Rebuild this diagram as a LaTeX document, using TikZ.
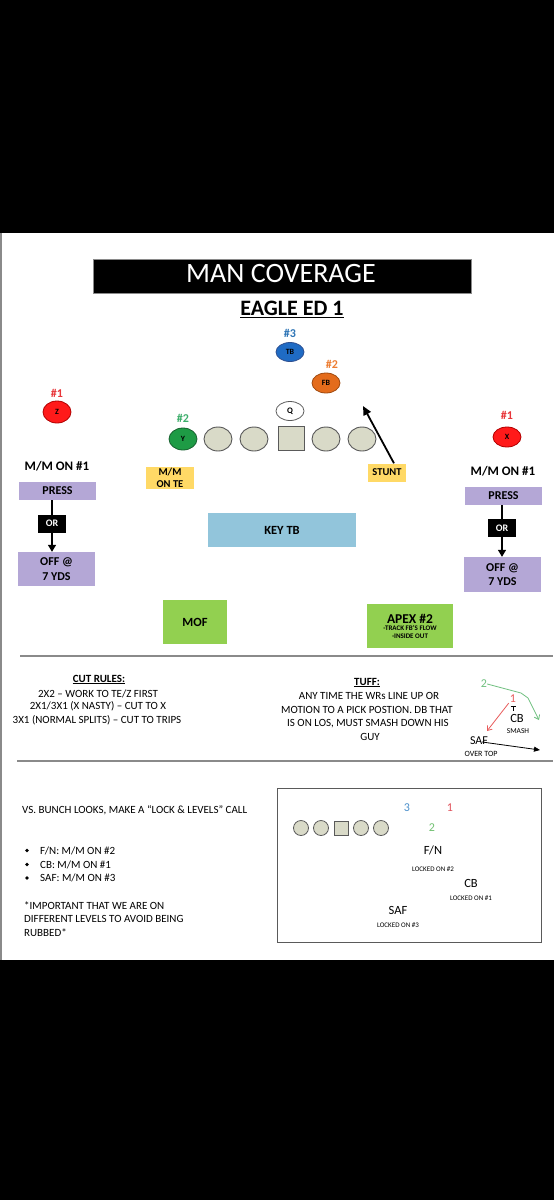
\documentclass[tikz,border=0pt]{standalone}
\usepackage{fontspec}
\setmainfont{Carlito}
\usetikzlibrary{arrows.meta,shapes.geometric}
\definecolor{purp}{HTML}{B4A7D6}
\definecolor{yel}{HTML}{FFD966}
\definecolor{lblue}{HTML}{92C5DB}
\definecolor{lgreen}{HTML}{92D050}
\definecolor{redf}{HTML}{FF1A1A}
\definecolor{redd}{HTML}{B00000}
\definecolor{tbf}{HTML}{1F6BC4}
\definecolor{tbd}{HTML}{2F4F8F}
\definecolor{fbf}{HTML}{E46C1C}
\definecolor{fbd}{HTML}{A04A10}
\definecolor{yf}{HTML}{1E9B45}
\definecolor{yd}{HTML}{16602E}
\definecolor{olf}{HTML}{D9DAC8}
\definecolor{old}{HTML}{5A5A5A}
\definecolor{lab3}{HTML}{2E75B6}
\definecolor{lab2o}{HTML}{ED7D31}
\definecolor{lab2g}{HTML}{3DAE6B}
\definecolor{lab1}{HTML}{E8363A}
\definecolor{tg}{HTML}{70C080}
\definecolor{tr}{HTML}{E85C5C}
\definecolor{b3}{HTML}{4A8FCB}
\definecolor{b1}{HTML}{E0505A}
\definecolor{b2}{HTML}{70C070}
\definecolor{rule}{HTML}{8A8A8A}
\begin{document}
\begin{tikzpicture}[x=1pt,y=-1pt,
  txt/.style={inner sep=0pt, anchor=base},
  lbl/.style={inner sep=0pt},
  fsz/.style={font=\fontsize{#1}{#1}\selectfont},
  bfsz/.style={font=\bfseries\fontsize{#1}{#1}\selectfont},
  player/.style 2 args={ellipse, fill=#1, draw=#2, line width=0.8pt, minimum width=28pt, minimum height=21pt, inner sep=0pt, font=\bfseries\fontsize{8}{8}\selectfont},
  lineman/.style={ellipse, fill=olf, draw=old, line width=0.9pt, minimum width=28pt, minimum height=24pt, inner sep=0pt},
  center/.style={rectangle, fill=olf, draw=old, line width=0.9pt, minimum width=26pt, minimum height=24pt, inner sep=0pt},
  cbox/.style={rectangle, inner sep=0pt, align=center},
  orbox/.style={rectangle, fill=black, text=white, inner sep=0pt, minimum width=28pt, minimum height=18pt, font=\bfseries\fontsize{10}{10}\selectfont},
  conn/.style={line width=1.3pt, -{Triangle[length=7pt,width=8pt]}},
  smallc/.style={circle, fill=olf, draw=old, line width=0.8pt, minimum size=15pt, inner sep=0pt},
  smalls/.style={rectangle, fill=olf, draw=old, line width=0.8pt, minimum size=14pt, inner sep=0pt},
  barb/.style={-{Straight Barb[length=4pt,width=6pt]}, line width=0.8pt}
]
\useasboundingbox (0,0) rectangle (554,1200);
\fill[black] (0,0) rectangle (554,1200);
\fill[white] (0,233) rectangle (554,960);
\draw[rule, line width=1.5pt] (1,233) -- (1,960);

% title
\node[fill=black, draw=rule, line width=0.6pt, minimum width=378pt, minimum height=34pt, inner sep=0pt] (titlebar) at (282,276) {};
\node[txt, text=white, fsz=28] (title) at (281,282) {MAN COVERAGE};
\node[txt, bfsz=22] (eagle) at (292,315) {EAGLE ED 1};
\draw[line width=1.3pt] ([yshift=-2.5pt]eagle.base west) -- ([yshift=-2.5pt]eagle.base east);

% backfield
\node[lbl, bfsz=12, text=lab3] (n3) at (290,333) {\#3};
\node[player={tbf}{tbd}, minimum height=19pt] (tb) at (290,352) {TB};
\node[lbl, bfsz=12, text=lab2o] (n2o) at (332,364) {\#2};
\node[player={fbf}{fbd}, minimum height=20pt] (fb) at (326,383) {FB};
\node[player={white}{old}, minimum height=19pt, font=\bfseries\fontsize{8.5}{8.5}\selectfont] (q) at (290,411) {Q};

% line
\node[lbl, bfsz=12, text=lab2g] (n2g) at (183,418) {\#2};
\node[player={yf}{yd}, minimum height=22pt] (y) at (183,439) {Y};
\node[lineman] (lt) at (218,439) {};
\node[lineman] (lg) at (254,439) {};
\node[center] (c) at (291,438) {};
\node[lineman] (rg) at (326,439) {};
\node[lineman] (rt) at (362,439) {};

% wideouts
\node[lbl, bfsz=12, text=lab1] (n1z) at (57,393) {\#1};
\node[player={redf}{redd}, minimum height=22pt] (z) at (57,412) {Z};
\node[lbl, bfsz=12, text=lab1] (n1x) at (507,415) {\#1};
\node[player={redf}{redd}, minimum height=20pt] (x) at (507,437) {X};

% stunt
\node[cbox, fill=yel, minimum width=38pt, minimum height=18pt, bfsz=10.5] (stunt) at (387,472.5) {STUNT};
\coordinate (stuntend) at (363,406);
\draw[line width=1.8pt, -{Triangle[length=9pt,width=8pt]}] ([xshift=7pt]stunt.north) -- (stuntend);
\node[cbox, fill=yel, minimum width=48pt, minimum height=22pt, font=\bfseries\fontsize{10.5}{12}\selectfont] (mmte) at (170,478) {M/M\\ON TE};

% left corner
\node[lbl, bfsz=13] (mml) at (57,466.5) {M/M ON \#1};
\node[cbox, fill=purp, minimum width=77pt, minimum height=18pt, bfsz=12] (pressL) at (57.5,491) {PRESS};
\node[cbox, fill=purp, minimum width=77pt, minimum height=34pt, font=\bfseries\fontsize{12}{14.5}\selectfont] (offL) at (56.5,569) {OFF @\\7 YDS};
\draw[conn] ([xshift=-5.5pt]pressL.south) -- ([xshift=-4.5pt]offL.north);
\node[orbox] (orL) at (52,523.5) {OR};

% right corner
\node[lbl, bfsz=13] (mmr) at (503,471.5) {M/M ON \#1};
\node[cbox, fill=purp, minimum width=77pt, minimum height=18pt, bfsz=12] (pressR) at (503.5,496) {PRESS};
\node[cbox, fill=purp, minimum width=77pt, minimum height=35pt, font=\bfseries\fontsize{12}{14.5}\selectfont] (offR) at (502.5,574.5) {OFF @\\7 YDS};
\draw[conn] ([xshift=-1.5pt]pressR.south) -- ([xshift=-0.5pt]offR.north);
\node[orbox] (orR) at (502,528) {OR};

% second level
\node[cbox, fill=lblue, minimum width=148pt, minimum height=34pt, bfsz=12.5] (keytb) at (282,530) {KEY TB};
\node[cbox, fill=lgreen, minimum width=64pt, minimum height=44pt, bfsz=12.5] (mof) at (195,622) {MOF};
\node[cbox, fill=lgreen, minimum width=86pt, minimum height=44pt, font=\bfseries\fontsize{7}{8}\selectfont] (apex) at (410,626) {{\fontsize{13.5}{13.5}\selectfont APEX \#2}\\[-1pt]-TRACK FB'S FLOW\\-INSIDE OUT};

% divider 1
\draw[rule, line width=1.5pt] (20,656) coordinate (d1a) -- (553,656) coordinate (d1b);

% cut rules
\node[txt, bfsz=11] (cut) at (99,682) {CUT RULES:};
\draw[line width=0.8pt] ([yshift=-1.5pt]cut.base west) -- ([yshift=-1.5pt]cut.base east);
\node[txt, fsz=11] (cut1) at (98,697) {2X2 – WORK TO TE/Z FIRST};
\node[txt, fsz=11] (cut2) at (98,709.5) {2X1/3X1 (X NASTY) – CUT TO X};
\node[txt, fsz=11] (cut3) at (97,723) {3X1 (NORMAL SPLITS) – CUT TO TRIPS};

% tuff
\node[txt, bfsz=11] (tuff) at (367,685) {TUFF:};
\draw[line width=0.8pt] ([yshift=-1.5pt]tuff.base west) -- ([yshift=-1.5pt]tuff.base east);
\node[txt, fsz=11] (tuff1) at (369,699) {ANY TIME THE WRs LINE UP OR};
\node[txt, fsz=11] (tuff2) at (367,713) {MOTION TO A PICK POSTION. DB THAT};
\node[txt, fsz=11] (tuff3) at (368,726) {IS ON LOS, MUST SMASH DOWN HIS};
\node[txt, fsz=11] (tuff4) at (370,740) {GUY};

% tuff diagram
\node[lbl, fsz=12, text=tg] (t2) at (484,684) {2};
\coordinate (g1) at (521,693);
\coordinate (g2) at (528,698);
\coordinate (g3) at (539,720);
\draw[tg, barb] (t2.east) -- (g1) -- (g2) -- (g3);
\node[lbl, fsz=12, text=tr] (t1) at (513,699) {1};
\coordinate (r1) at (487,731);
\draw[tr, barb] ([xshift=-1pt]t1.south west) -- (r1);
\draw[line width=0.6pt] (510.5,706) coordinate (tk1) -- (515.5,706) coordinate (tk2);
\draw[line width=0.6pt] (513,706) -- (513,711);
\node[lbl, fsz=12.5] (tcb) at (517,718) {CB};
\node[lbl, fsz=7.5] (tsmash) at (518,731) {SMASH};
\node[lbl, fsz=12] (tsaf) at (479,741) {SAF};
\coordinate (sa) at (540,750);
\draw[line width=0.8pt, -{Triangle[length=6pt,width=5pt]}] ([xshift=-6pt,yshift=-1pt]tsaf.east) -- (sa);
\node[lbl, fsz=8] (tover) at (481,753.5) {OVER TOP};

% divider 2
\draw[rule, line width=1.5pt] (17,761) coordinate (d2a) -- (553,761) coordinate (d2b);

% bunch text
\node[txt, anchor=base west, fsz=11] (vs) at (22,813.5) {VS. BUNCH LOOKS, MAKE A “LOCK \& LEVELS” CALL};
\foreach \yy/\tt [count=\i] in {854/{F/N: M/M ON \#2}, 868/{CB: M/M ON \#1}, 881.5/{SAF: M/M ON \#3}} {
  \fill (27,\yy-3.5) circle (1.8pt);
  \node[txt, anchor=base west, fsz=11] (bul\i) at (40,\yy) {\tt};
}
\node[txt, anchor=base west, fsz=11] (imp1) at (24,909) {*IMPORTANT THAT WE ARE ON};
\node[txt, anchor=base west, fsz=11] (imp2) at (24,922.5) {DIFFERENT LEVELS TO AVOID BEING};
\node[txt, anchor=base west, fsz=11] (imp3) at (24,936) {RUBBED*};

% bunch box
\draw[old, line width=1pt] (277,788) rectangle (541,942);
\node[smallc] (bc1) at (301,828) {};
\node[smallc] (bc2) at (321,828) {};
\node[smalls] (bc3) at (341,828) {};
\node[smallc] (bc4) at (361,828) {};
\node[smallc] (bc5) at (381,828) {};
\node[lbl, fsz=12, text=b3] (bn3) at (407,808) {3};
\node[lbl, fsz=12, text=b1] (bn1) at (450,808) {1};
\node[lbl, fsz=12, text=b2] (bn2) at (432,828) {2};
\node[lbl, fsz=12.5] (bfn) at (433,850) {F/N};
\node[lbl, fsz=7] (bfnl) at (433,869) {LOCKED ON \#2};
\node[lbl, fsz=12.5] (bcb) at (471,883) {CB};
\node[lbl, fsz=7] (bcbl) at (471,898) {LOCKED ON \#1};
\node[lbl, fsz=12.5] (bsaf) at (398,910) {SAF};
\node[lbl, fsz=7] (bsafl) at (398,925) {LOCKED ON \#3};
\end{tikzpicture}
\end{document}
